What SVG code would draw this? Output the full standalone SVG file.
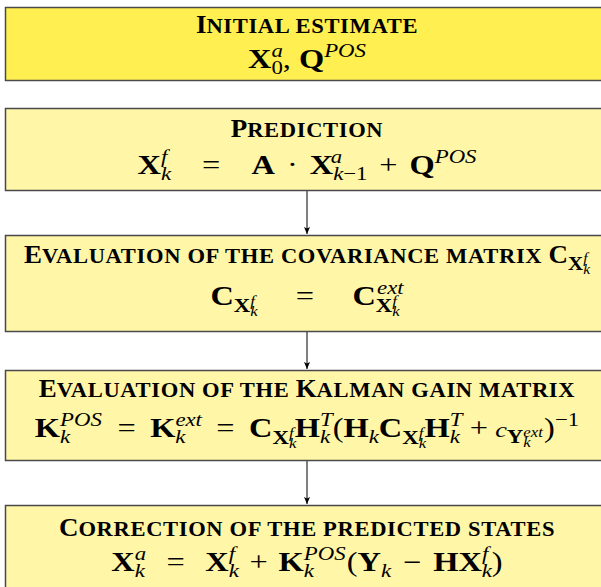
<svg xmlns="http://www.w3.org/2000/svg" width="601" height="587" viewBox="0 0 601 587">
<style>
text{font-family:"Liberation Serif","Times New Roman",serif;fill:#000;text-anchor:middle}
.box{stroke:#4a4a4a;stroke-width:1.5}
.init{fill:#FFEF50}
.pale{fill:#FFF6A8}
.f{font-size:27px}
.T{font-size:24.5px;font-weight:bold}
.sc{font-size:20.5px;font-weight:bold;letter-spacing:0.6px}
.b{font-weight:bold}
.i{font-style:italic}
.s{font-size:19px}
.ss{font-size:14px}
.c{font-size:22px}
.conn line{stroke:#000;stroke-width:1}
</style>
<defs>
<marker id="ah" markerUnits="userSpaceOnUse" markerWidth="8" markerHeight="8" refX="7" refY="4" orient="auto">
<path d="M0,1 L7,4 L0,7 L1.5,4 Z" fill="#000"/>
</marker>
</defs>
<g id="connectors" class="conn">
<line x1="307" y1="191" x2="307" y2="234" marker-end="url(#ah)"/>
<line x1="307" y1="332" x2="307" y2="369" marker-end="url(#ah)"/>
<line x1="307" y1="461" x2="307" y2="504" marker-end="url(#ah)"/>
</g>
<g id="initial">
<rect class="box init" x="5.5" y="7.5" width="603" height="73"/>
<text transform="translate(307 33) scale(1.1 1)"><tspan class="T">I</tspan><tspan class="sc">NITIAL ESTIMATE</tspan></text>
<text transform="translate(307 68) scale(1.2 1)" class="f"><tspan class="b">X</tspan><tspan class="s" dy="6">0</tspan><tspan class="s i" dx="-9.5" dy="-17">a</tspan><tspan dy="11">, </tspan><tspan class="b">Q</tspan><tspan class="s i" dy="-11">POS</tspan></text>
</g>
<g id="prediction">
<rect class="box pale" x="5.5" y="108.5" width="603" height="82"/>
<text transform="translate(307 137) scale(1.1 1)"><tspan class="T">P</tspan><tspan class="sc">REDICTION</tspan></text>
<text transform="translate(307 174) scale(1.2 1)" class="f"><tspan class="b">X</tspan><tspan class="s i" dy="6">k</tspan><tspan class="s i" dx="-8.4" dy="-17">f</tspan><tspan dx="29" dy="11">=</tspan><tspan class="b" dx="26">A</tspan><tspan dx="10">·</tspan><tspan class="b" dx="10">X</tspan><tspan class="s i" dy="6">k</tspan><tspan class="s">−1</tspan><tspan class="s i" dx="-30.7" dy="-17">a</tspan><tspan dx="31" dy="11">+</tspan><tspan class="b" dx="10">Q</tspan><tspan class="s i" dy="-11">POS</tspan></text>
</g>
<g id="covariance">
<rect class="box pale" x="5.5" y="235.5" width="603" height="96"/>
<text transform="translate(307 263) scale(1.1 1)"><tspan class="T">E</tspan><tspan class="sc">VALUATION OF THE COVARIANCE MATRIX </tspan><tspan class="T">C</tspan><tspan class="s b" dy="7">X</tspan><tspan class="ss i" dy="4">k</tspan><tspan class="ss i" dx="-6.2" dy="-11">f</tspan></text>
<text transform="translate(307 305) scale(1.2 1)" class="f"><tspan class="b">C</tspan><tspan class="s b" dy="7">X</tspan><tspan class="ss i" dy="4">k</tspan><tspan class="ss i" dx="-6.2" dy="-10">f</tspan><tspan dx="34" dy="-1">=</tspan><tspan class="b" dx="32">C</tspan><tspan class="s b" dy="7">X</tspan><tspan class="ss i" dy="4">k</tspan><tspan class="ss i" dx="-6.2" dy="-10">f</tspan><tspan class="s i" dx="-16.6" dy="-12">ext</tspan></text>
</g>
<g id="kalman">
<rect class="box pale" x="5.5" y="370.5" width="603" height="90"/>
<text transform="translate(307 397) scale(1.1 1)"><tspan class="T">E</tspan><tspan class="sc">VALUATION OF THE </tspan><tspan class="T">K</tspan><tspan class="sc">ALMAN GAIN MATRIX</tspan></text>
<text transform="translate(307 437) scale(1.2 1)" class="f"><tspan class="b">K</tspan><tspan class="s i" dy="6">k</tspan><tspan class="s i" dx="-8.4" dy="-17">POS</tspan><tspan dx="13" dy="11">=</tspan><tspan class="b" dx="12">K</tspan><tspan class="s i" dy="6">k</tspan><tspan class="s i" dx="-8.4" dy="-17">ext</tspan><tspan dx="12" dy="11">=</tspan><tspan class="b" dx="12">C</tspan><tspan class="s b" dy="7">X</tspan><tspan class="ss i" dy="4">k</tspan><tspan class="ss i" dx="-6.2" dy="-10">f</tspan><tspan class="b" dx="1" dy="-1">H</tspan><tspan class="s i" dy="6">k</tspan><tspan class="s i" dx="-8.4" dy="-17">T</tspan><tspan dy="11">(</tspan><tspan class="b">H</tspan><tspan class="s i" dy="6">k</tspan><tspan class="b" dy="-6">C</tspan><tspan class="s b" dy="7">X</tspan><tspan class="ss i" dy="4">k</tspan><tspan class="ss i" dx="-6.2" dy="-10">f</tspan><tspan class="b" dx="1" dy="-1">H</tspan><tspan class="s i" dy="6">k</tspan><tspan class="s i" dx="-8.4" dy="-17">T</tspan><tspan dx="6" dy="11">+</tspan><tspan class="i c" dx="6">c</tspan><tspan class="s b" dy="6">Y</tspan><tspan class="ss i" dy="4">k</tspan><tspan class="ss i" dx="-6.2" dy="-10">ext</tspan><tspan dx="1">)</tspan><tspan class="s" dy="-11">−1</tspan></text>
</g>
<g id="correction">
<rect class="box pale" x="5.5" y="505.5" width="603" height="100"/>
<text transform="translate(307 536) scale(1.1 1)"><tspan class="T">C</tspan><tspan class="sc">ORRECTION OF THE PREDICTED STATES</tspan></text>
<text transform="translate(307 571) scale(1.2 1)" class="f"><tspan class="b">X</tspan><tspan class="s i" dy="6">k</tspan><tspan class="s i" dx="-8.4" dy="-17">a</tspan><tspan dx="17" dy="11">=</tspan><tspan class="b" dx="17">X</tspan><tspan class="s i" dy="6">k</tspan><tspan class="s i" dx="-8.4" dy="-17">f</tspan><tspan dx="12" dy="11">+</tspan><tspan class="b" dx="9">K</tspan><tspan class="s i" dy="6">k</tspan><tspan class="s i" dx="-8.4" dy="-17">POS</tspan><tspan dx="1" dy="11">(</tspan><tspan class="b">Y</tspan><tspan class="s i" dy="6">k</tspan><tspan dx="10" dy="-6">−</tspan><tspan class="b" dx="10">HX</tspan><tspan class="s i" dy="6">k</tspan><tspan class="s i" dx="-8.4" dy="-17">f</tspan><tspan dx="3" dy="11">)</tspan></text>
</g>
</svg>
